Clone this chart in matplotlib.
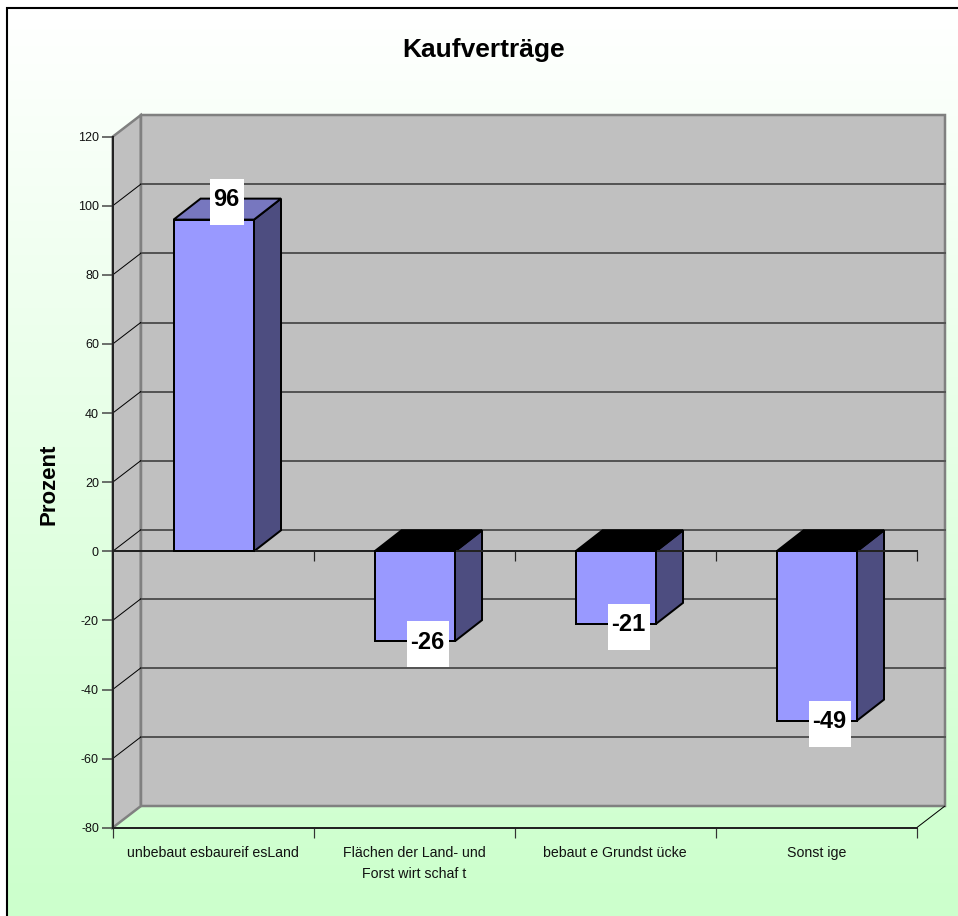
import numpy as np
import matplotlib
matplotlib.use("Agg")
import matplotlib.pyplot as plt
from matplotlib.patches import Polygon, Rectangle
from matplotlib.colors import LinearSegmentedColormap

categories = ["unbebaut esbaureif esLand", "Flächen der Land- und\nForst wirt schaf t",
              "bebaut e Grundst ücke", "Sonst ige"]
values = [96, -26, -21, -49]
value_labels = ["96", "-26", "-21", "-49"]
y_ticks = [-80, -60, -40, -20, 0, 20, 40, 60, 80, 100, 120]
title = "Kaufverträge"
y_label = "Prozent"

W, H = 958, 916
plt.rcParams['font.family'] = ['Liberation Sans', 'DejaVu Sans']
plt.rcParams['axes.unicode_minus'] = False
fig = plt.figure(figsize=(W / 100, H / 100), dpi=100)

# page background: white-to-green gradient inside a black top/left border
bg = fig.add_axes([0, 0, 1, 1], zorder=0)
bg.set_xlim(0, W); bg.set_ylim(H, 0); bg.axis("off")
cmap = LinearSegmentedColormap.from_list("g", ["#FFFFFF", "#CCFFCC"])
grad = np.linspace(0, 1, 256).reshape(-1, 1)
bg.imshow(grad, cmap=cmap, aspect="auto", extent=(7, W, 900, 8), zorder=0)
bg.add_patch(Rectangle((7, 900), W - 7, H - 900, fc="#CCFFCC", ec="none", zorder=0))
bg.set_xlim(0, W); bg.set_ylim(H, 0)
bg.plot([7, 7, W], [H, 8, 8], color="black", lw=1.5, solid_joinstyle="miter", zorder=1)

# plot axes = front plane of the 3D box
L, R, T, B = 112.7, 916.7, 136.7, 827.7
ax = fig.add_axes([L / W, 1 - B / H, (R - L) / W, (B - T) / H], zorder=1)
ax.patch.set_visible(False)
ax.set_xlim(0, 4); ax.set_ylim(-80, 120)
ux = (R - L) / 4; uy = (B - T) / 200
wall_dx, wall_dy = 28 / ux, 21.5 / uy
bar_dx, bar_dy = 27 / ux, 21 / uy
px = 0.72  # points per pixel

GREY = "#C0C0C0"; EDGE = "#808080"; GRID = "#555555"
ax.add_patch(Polygon([(wall_dx, -80 + wall_dy), (4 + wall_dx, -80 + wall_dy),
                      (4 + wall_dx, 120 + wall_dy), (wall_dx, 120 + wall_dy)],
                     fc=GREY, ec=EDGE, lw=2.5 * px, clip_on=False, zorder=1))
ax.add_patch(Polygon([(0, -80), (wall_dx, -80 + wall_dy), (wall_dx, 120 + wall_dy), (0, 120)],
                     fc=GREY, ec=EDGE, lw=2.5 * px, clip_on=False, zorder=1))
for v in y_ticks[1:-1]:
    ax.plot([wall_dx, 4 + wall_dx], [v + wall_dy] * 2, color=GRID, lw=2 * px, clip_on=False, zorder=2)
    ax.plot([0, wall_dx], [v, v + wall_dy], color="black", lw=1 * px, clip_on=False, zorder=2)
ax.plot([4, 4 + wall_dx], [-80, -80 + wall_dy], color="black", lw=1 * px, clip_on=False, zorder=2)

# bars
xs = np.arange(len(values)) + 0.503
bw = 0.4
for x, v in zip(xs, values):
    x1 = x + bw / 2
    top = max(v, 0)
    ax.add_patch(Polygon([(x1, 0), (x1 + bar_dx, bar_dy), (x1 + bar_dx, v + bar_dy), (x1, v)],
                         fc="#4D4D80", ec="black", lw=2 * px, clip_on=False, zorder=3))
    ax.add_patch(Polygon([(x - bw / 2, top), (x - bw / 2 + bar_dx, top + bar_dy),
                          (x1 + bar_dx, top + bar_dy), (x1, top)],
                         fc="#7777BF" if v > 0 else "black", ec="black", lw=2 * px,
                         clip_on=False, zorder=3))

# zero axis
ax.plot([0, 4], [0, 0], color="#222222", lw=2 * px, clip_on=False, zorder=4)
ax.vlines(range(1, 5), -10 / uy, 0, color="#222222", lw=1.2 * px, clip_on=False, zorder=4)
ax.bar(xs, values, width=bw, color="#9999FF", edgecolor="black", linewidth=2 * px,
       zorder=5, clip_on=False)

# value labels on white boxes
for x, v, s in zip(xs, values, value_labels):
    cx = x + 13 / ux
    cy = (v + bar_dy if v > 0 else v) - 3 / uy
    w, h = (34 if v > 0 else 42) / ux, 46 / uy
    ax.add_patch(Rectangle((cx - w / 2, cy - h / 2), w, h, fc="white", ec="none",
                           clip_on=False, zorder=6))
    ax.text(cx - 1 / ux, cy + 2 / uy, s, ha="center", va="center", fontsize=17, fontweight="bold",
            color="black", zorder=7)

# axes furniture
for s in ("top", "right"):
    ax.spines[s].set_visible(False)
for s in ("left", "bottom"):
    ax.spines[s].set_linewidth(2 * px)
    ax.spines[s].set_color("#222222")
    ax.spines[s].set_zorder(4)
ax.set_yticks(y_ticks)
ax.tick_params(axis="y", length=11 * px, width=1.5 * px, color="#444444", pad=2,
               labelsize=9, labelcolor="#111111")
ax.set_xticks(range(5))
ax.set_xticklabels([])
ax.tick_params(axis="x", which="major", length=10 * px, width=1.2 * px, color="#333333")
ax.set_xticks(np.arange(4) + 0.5, minor=True)
ax.set_xticklabels(categories, minor=True, fontsize=10.2, color="#111111", linespacing=1.7)
ax.tick_params(axis="x", which="minor", length=0, pad=13)

fig.text(484 / W, 1 - 50 / H, title, ha="center", va="center", fontsize=19, fontweight="bold", color="black", zorder=5)
fig.text(49 / W, 1 - 484 / H, y_label, ha="center", va="center", rotation=90, fontsize=16,
         fontweight="bold", color="black", zorder=5)

fig.savefig("out.png", dpi=100)
